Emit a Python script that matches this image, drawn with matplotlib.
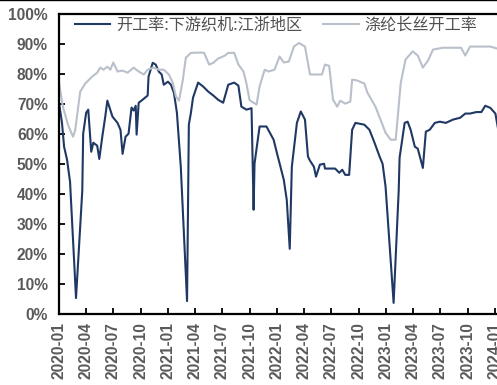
import matplotlib
matplotlib.use("Agg")
import matplotlib.pyplot as plt
import matplotlib.dates as mdates
import pandas as pd
from matplotlib.lines import Line2D

# 开工率:下游织机:江浙地区 (%)
loom_dates = [
    "2020-01-01", "2020-01-11", "2020-01-18", "2020-01-28", "2020-02-07", "2020-02-27",
    "2020-03-19", "2020-03-22", "2020-04-01", "2020-04-08", "2020-04-18", "2020-04-25",
    "2020-05-08", "2020-05-15", "2020-05-25", "2020-06-04", "2020-06-11", "2020-06-28",
    "2020-07-15", "2020-07-25", "2020-08-01", "2020-08-11", "2020-08-21", "2020-08-31",
    "2020-09-07", "2020-09-14", "2020-09-17", "2020-09-24", "2020-10-07", "2020-10-24",
    "2020-10-27", "2020-11-10", "2020-11-20", "2020-11-30", "2020-12-10", "2020-12-17",
    "2020-12-31", "2021-01-10", "2021-01-20", "2021-01-30", "2021-02-12", "2021-03-05",
    "2021-03-11", "2021-03-18", "2021-03-25", "2021-04-11", "2021-04-28", "2021-05-15",
    "2021-06-01", "2021-06-17", "2021-07-04", "2021-07-21", "2021-08-10", "2021-08-24",
    "2021-09-03", "2021-09-20", "2021-10-07", "2021-10-14", "2021-10-17", "2021-11-03",
    "2021-11-26", "2021-12-20", "2021-12-30", "2022-01-23", "2022-02-02", "2022-02-12",
    "2022-02-19", "2022-03-08", "2022-03-21", "2022-04-04", "2022-04-14", "2022-04-21",
    "2022-05-04", "2022-05-11", "2022-05-24", "2022-06-07", "2022-06-10", "2022-06-24",
    "2022-07-14", "2022-07-28", "2022-08-07", "2022-08-17", "2022-08-30", "2022-09-09",
    "2022-09-20", "2022-10-20", "2022-11-06", "2022-11-23", "2022-12-10", "2022-12-20",
    "2022-12-30", "2023-01-26", "2023-02-12", "2023-02-15", "2023-03-04", "2023-03-14",
    "2023-03-24", "2023-04-07", "2023-04-17", "2023-05-04", "2023-05-14", "2023-05-27",
    "2023-06-13", "2023-06-30", "2023-07-20", "2023-08-13", "2023-09-06", "2023-09-23",
    "2023-10-09", "2023-10-30", "2023-11-16", "2023-11-29", "2023-12-16", "2024-01-02",
    "2024-01-19",
]
loom_values = [
    70.3, 63.6, 55.7, 51.3, 44.0, 5.3,
    41.0, 60.0, 67.0, 68.0, 54.0, 57.0,
    56.0, 51.6, 59.0, 65.7, 71.0, 65.7,
    63.6, 61.3, 53.3, 59.0, 60.0, 68.7,
    67.7, 69.3, 59.7, 70.3, 71.3, 72.7,
    79.0, 83.6, 83.0, 80.7, 79.7, 76.3,
    77.3, 76.3, 73.6, 67.0, 49.0, 4.3,
    63.0, 67.0, 72.0, 77.0, 75.7, 74.0,
    72.7, 71.3, 70.3, 76.3, 77.0, 76.0,
    69.0, 68.0, 68.5, 34.7, 50.0, 62.4,
    62.4, 58.0, 54.0, 44.7, 38.0, 21.7,
    49.0, 63.6, 67.4, 64.7, 52.4, 51.0,
    49.0, 45.7, 49.7, 50.0, 48.4, 48.4,
    48.4, 47.0, 48.0, 46.3, 46.3, 61.3,
    63.6, 63.0, 61.3, 57.0, 52.4, 50.0,
    42.4, 3.7, 41.0, 52.0, 63.6, 64.0,
    61.3, 55.7, 55.0, 48.6, 60.7, 61.3,
    63.6, 64.0, 63.6, 64.7, 65.3, 66.7,
    66.7, 67.2, 67.2, 69.3, 68.6, 66.7,
    57.0,
]

# 涤纶长丝开工率 (%)
fil_dates = [
    "2020-01-01", "2020-01-14", "2020-01-31", "2020-02-17", "2020-02-24", "2020-03-12",
    "2020-03-29", "2020-04-21", "2020-05-08", "2020-05-18", "2020-05-29", "2020-06-11",
    "2020-06-21", "2020-07-01", "2020-07-15", "2020-08-01", "2020-08-18", "2020-09-07",
    "2020-09-24", "2020-10-11", "2020-10-24", "2020-11-13", "2020-11-30", "2020-12-17",
    "2021-01-03", "2021-01-16", "2021-01-27", "2021-02-06", "2021-02-19", "2021-03-01",
    "2021-03-18", "2021-04-21", "2021-05-01", "2021-05-18", "2021-06-01", "2021-06-17",
    "2021-07-08", "2021-07-21", "2021-08-10", "2021-08-24", "2021-09-10", "2021-09-20",
    "2021-09-30", "2021-10-07", "2021-10-24", "2021-11-03", "2021-11-20", "2021-12-03",
    "2021-12-23", "2022-01-09", "2022-01-23", "2022-02-09", "2022-02-26", "2022-03-15",
    "2022-04-04", "2022-04-21", "2022-05-31", "2022-06-10", "2022-06-24", "2022-07-07",
    "2022-07-21", "2022-07-31", "2022-08-17", "2022-09-03", "2022-09-09", "2022-09-26",
    "2022-10-20", "2022-10-30", "2022-11-26", "2022-12-13", "2022-12-30", "2023-01-16",
    "2023-02-02", "2023-02-19", "2023-03-07", "2023-03-31", "2023-04-17", "2023-05-04",
    "2023-05-21", "2023-06-07", "2023-07-10", "2023-09-09", "2023-09-23", "2023-10-09",
    "2023-12-16", "2024-01-19",
]
fil_values = [
    77.0, 69.0, 63.0, 59.0, 61.0, 74.0,
    76.7, 79.0, 80.3, 82.0, 81.3, 82.3,
    81.3, 83.7, 80.7, 81.0, 80.3, 82.0,
    80.7, 79.7, 81.3, 82.0, 81.3, 81.3,
    79.7, 77.0, 72.3, 71.0, 78.0, 85.3,
    86.9, 87.0, 86.9, 83.0, 83.6, 85.0,
    85.9, 86.9, 86.9, 83.0, 80.7, 76.7,
    71.3, 70.7, 69.7, 75.7, 81.3, 80.7,
    81.3, 85.7, 83.7, 84.0, 89.0, 90.2,
    89.0, 79.7, 79.7, 83.0, 82.6, 71.3,
    69.0, 71.0, 70.0, 70.7, 78.0, 77.7,
    76.7, 73.7, 69.0, 64.7, 60.3, 58.0,
    58.0, 77.0, 84.7, 87.4, 86.0, 82.0,
    84.3, 88.0, 88.6, 88.6, 86.0, 89.0,
    89.0, 88.0,
]

loom = pd.Series(loom_values, index=pd.to_datetime(loom_dates))
fil = pd.Series(fil_values, index=pd.to_datetime(fil_dates))

W, H = 497, 385
fig = plt.figure(figsize=(W / 100, H / 100), dpi=100)
ax = fig.add_axes([59 / W, 1 - 314 / H, 1 - 59 / W + 0.01, (314 - 13.5) / H])

ax.plot(loom.index, loom.values, color="#1f3864", linewidth=1.5, label="开工率:下游织机:江浙地区")
ax.plot(fil.index, fil.values, color="#b9c0ca", linewidth=1.5, label="涤纶长丝开工率")

ax.set_ylim(0, 100)
ax.set_xlim(pd.Timestamp("2020-01-01"), pd.Timestamp("2024-01-24"))
ax.set_yticks(range(0, 101, 10))
ax.set_yticklabels([f"{v}%" for v in range(0, 101, 10)])
ax.xaxis.set_major_locator(mdates.MonthLocator(bymonth=[1, 4, 7, 10]))
ax.xaxis.set_major_formatter(mdates.DateFormatter("%Y-%m"))

for side in ["left", "bottom", "top"]:
    ax.spines[side].set_linewidth(1.6)
    ax.spines[side].set_color("black")
ax.spines["right"].set_visible(False)

ax.tick_params(axis="both", direction="in", length=4, width=1.3, color="black")
ax.tick_params(axis="y", pad=8)
ax.tick_params(axis="x", pad=6)
for lab in ax.get_yticklabels() + ax.get_xticklabels():
    lab.set_family(["Liberation Sans", "DejaVu Sans"])
    lab.set_fontweight("bold")
    lab.set_fontsize(11.2)
    lab.set_color("#5a5a5a")
for lab in ax.get_xticklabels():
    lab.set_rotation(90)

leg = ax.legend(
    loc="center left", bbox_to_anchor=(75 / W, 1 - 25 / H), bbox_transform=fig.transFigure,
    ncol=2, frameon=False, borderpad=0, borderaxespad=0,
    handlelength=2.2, handletextpad=0.35, columnspacing=1.3,
    prop={"family": ["Noto Sans CJK SC", "DejaVu Sans"], "size": 11.6},
)
for t in leg.get_texts():
    t.set_color("#505050")

fig.add_artist(Line2D([0, 1], [0.999, 0.999], transform=fig.transFigure, color="black", linewidth=1))

fig.savefig("out.png", dpi=100)
